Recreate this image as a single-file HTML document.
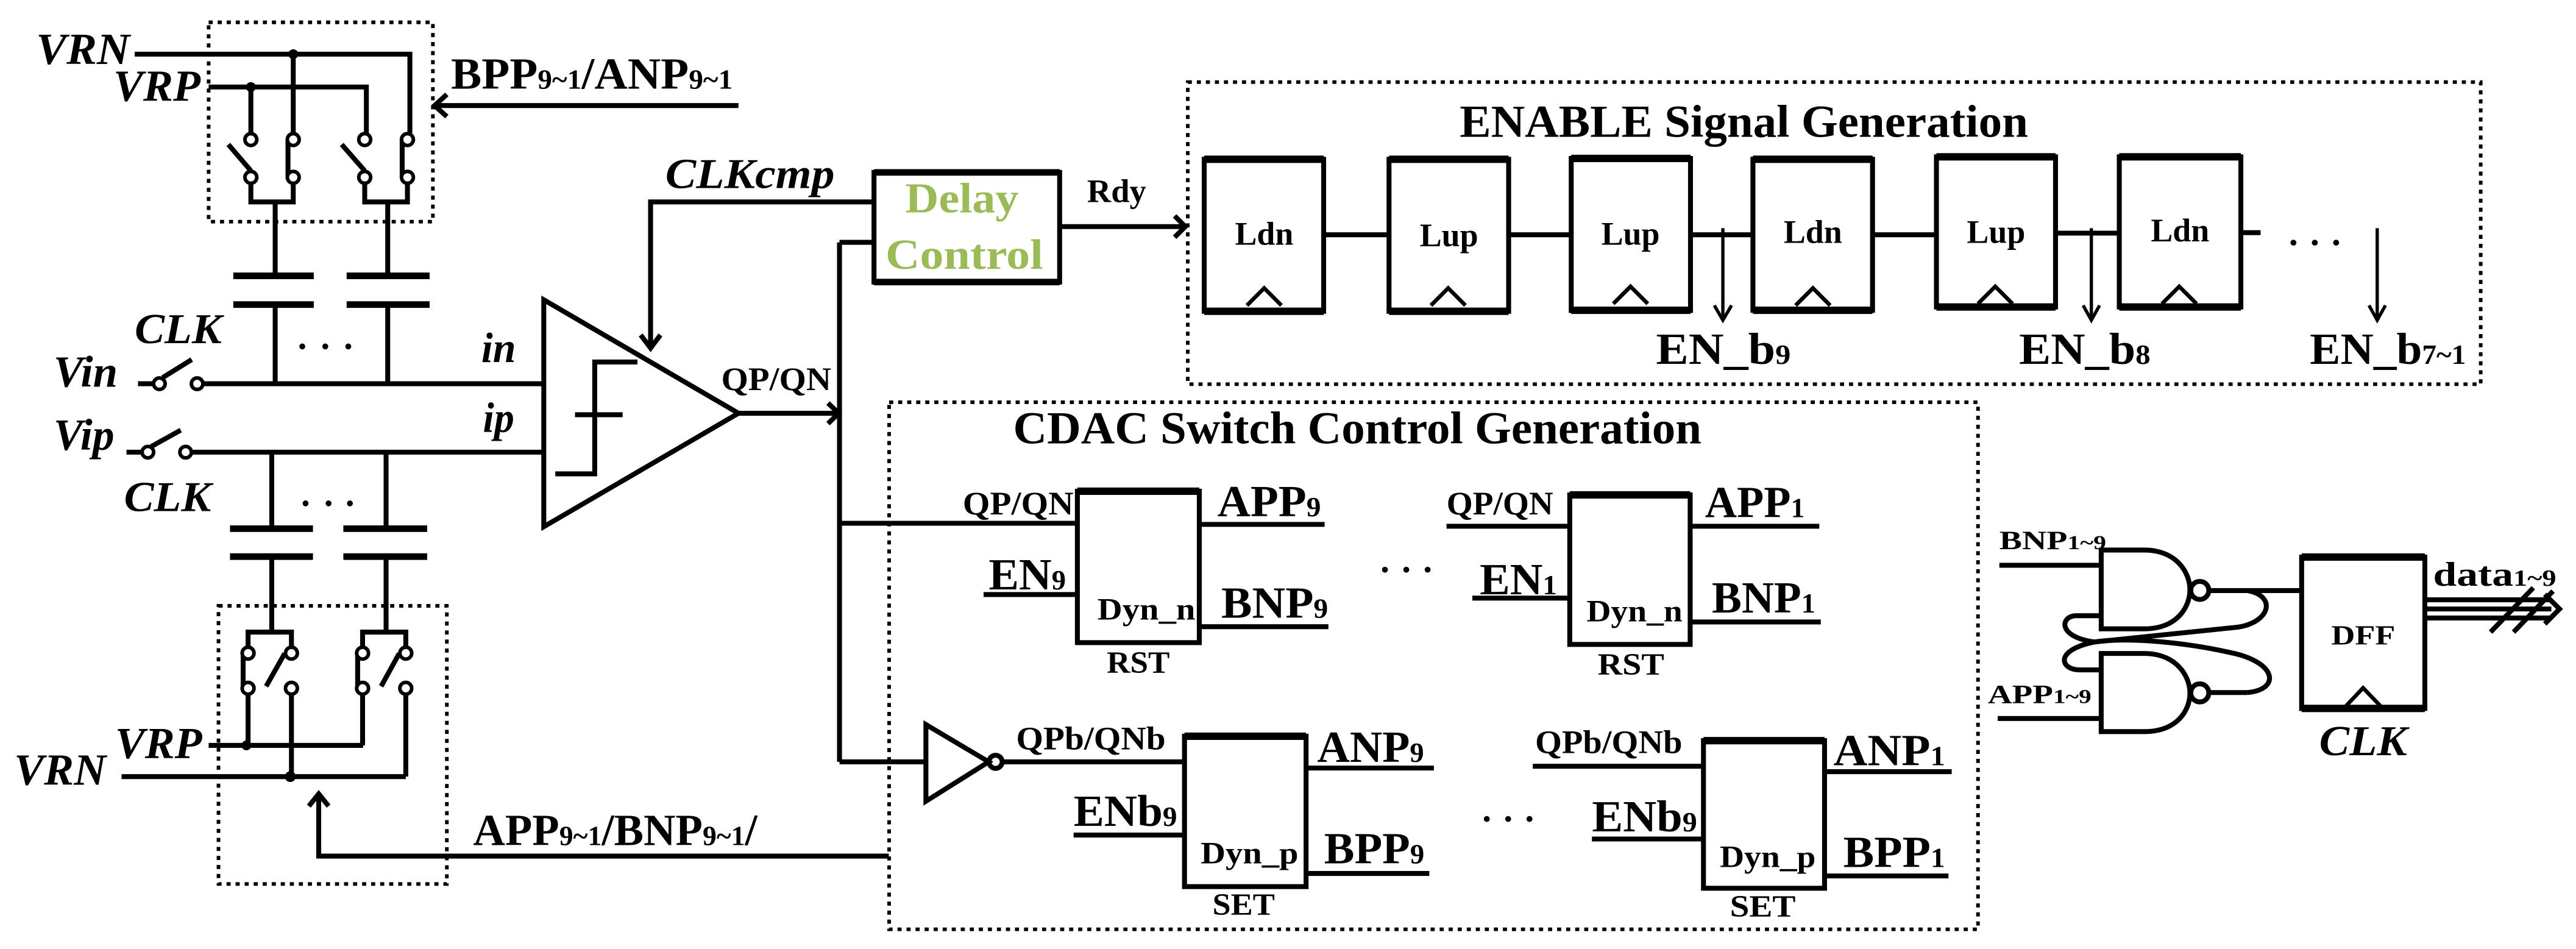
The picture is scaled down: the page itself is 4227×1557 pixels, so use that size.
<!DOCTYPE html>
<html><head><meta charset="utf-8"><style>
html,body{margin:0;padding:0;background:#fff;}
svg{display:block;}
text{font-family:"Liberation Serif",serif;font-weight:bold;fill:#000;}
.it{font-style:italic;}
</style></head><body>
<svg width="4227" height="1557" viewBox="0 0 1568 578" preserveAspectRatio="none" xmlns="http://www.w3.org/2000/svg">
<g fill="none" stroke="#000" stroke-width="3" stroke-linejoin="miter">
<!-- dashed boxes -->
<g stroke-width="2.2" stroke-dasharray="2.5 3">
<rect x="127" y="13.6" width="136.5" height="121.4"/>
<rect x="133" y="369" width="139" height="169.4"/>
<rect x="723" y="50" width="787" height="184"/>
<rect x="541.2" y="245" width="662.8" height="321"/>
</g>
<!-- top switch block -->
<path d="M82,33 H249.5 V81"/>
<path d="M178.5,33 V81"/>
<path d="M127,53 H223 V81"/>
<path d="M152.7,53 V81"/>
<path d="M152.7,104 L139,88"/>
<path d="M222,104 L208,88"/>
<path d="M175.3,85 V108"/>
<path d="M244.8,85 V108"/>
<path d="M152.7,112 V123 H178.5 V112"/>
<path d="M222,112 V123 H248 V112"/>
<path d="M167.5,123 V168 M236,123 V168"/>
<path d="M142,168 H191 M211,168 H261.5 M142,185.5 H191 M211,185.5 H261.5" stroke-width="4"/>
<path d="M167.5,185.5 V233.7 M236,185.5 V233.7"/>
<!-- Vin / Vip -->
<path d="M84,233.7 H93.5 M123.5,233.7 H331"/>
<path d="M99,230 L116.7,219"/>
<path d="M77,275.4 H86.5 M116.5,275.4 H331"/>
<path d="M92,272 L110,262"/>
<!-- bottom caps -->
<path d="M165.4,275.4 V322 M235,275.4 V322"/>
<path d="M140,322 H190.5 M209,322 H260 M140,339 H190.5 M209,339 H260" stroke-width="4"/>
<path d="M165.4,339 V385 M235,339 V385"/>
<path d="M151,393.8 V385 H177.4 V393.8"/>
<path d="M220.7,393.8 V385 H247 V393.8"/>
<path d="M148,397.8 V419.2 M217.7,397.8 V419.2"/>
<path d="M173.3,398 L162,418 M243,398 L232,418"/>
<path d="M151,423 V454 M220.7,423 V454 M177.4,423 V473 M247,423 V473"/>
<path d="M127,454 H221"/>
<path d="M74,473 H247"/>
<path d="M541,521.4 H194 V485"/>
<path d="M188,491 L194,483.5 L200,491"/>
<!-- BPP arrow -->
<path d="M449.5,64.3 H266"/>
<path d="M272,57.5 L264.5,64.3 L272,71"/>
<!-- comparator -->
<path d="M331,182.6 L449.5,251.7 L331,320.8 Z"/>
<path d="M338,288.6 H362 V220.5 H388 M350,252.6 H379"/>
<path d="M449.5,251.7 H510"/>
<path d="M504,245.5 L510.5,251.7 L504,258"/>
<path d="M511,147.6 V464 M511,147.6 H532 M511,318.7 H655.8 M511,464 H563.6"/>
<path d="M532,123 H396 V211"/>
<path d="M390,204 L396,212 L402,204"/>
<!-- delay -->
<rect x="532" y="105" width="113" height="66.8"/>
<path d="M532,105 H645 M532,171.8 H645" stroke-width="4"/>
<path d="M645,138 H720"/>
<path d="M715,131.5 L721.5,138 L715,144.5"/>
<!-- enable boxes -->
<g>
<rect x="733" y="97" width="72.7" height="92.6"/>
<rect x="845.5" y="97" width="72.8" height="92.6"/>
<rect x="956.4" y="96.5" width="72.6" height="92.6"/>
<rect x="1067" y="97" width="72.8" height="92"/>
<rect x="1178.7" y="95.5" width="72.5" height="91.5"/>
<rect x="1290" y="95.5" width="74" height="91.5"/>
</g>
<path stroke-width="4.5" d="M733,97 H805.7 M733,189.6 H805.7 M845.5,97 H918.3 M845.5,189.6 H918.3 M956.4,96.5 H1029 M956.4,189 H1029 M1067,97 H1139.8 M1067,189 H1139.8 M1178.7,95.5 H1251.2 M1178.7,187 H1251.2 M1290,95.5 H1364 M1290,187 H1364"/>
<path stroke-width="2.4" d="M759,186 L769.5,175.5 L780,186 M871,186 L881.5,175.5 L892,186 M982,185 L992.5,174.5 L1003,185 M1093,186 L1103.5,175.5 L1114,186 M1204,185 L1214.5,174.5 L1225,185 M1316,185 L1326.5,174.5 L1337,185"/>
<path d="M805.7,143 H845.5 M918.3,143 H956.4 M1029,143 H1067 M1139.8,143 H1178.7 M1251.2,142 H1290 M1364,141.7 H1376"/>
<path stroke-width="2" d="M1048.7,139 V194 M1273,139 V194 M1447,139 V194"/>
<path stroke-width="2" d="M1043.5,186 L1048.7,195 L1054,186 M1268,186 L1273,195 L1278,186 M1442,186 L1447,195 L1452,186"/>
<!-- CDAC -->
<rect x="655.8" y="299.2" width="74.2" height="92.2"/>
<rect x="955.5" y="301.4" width="73.3" height="91.1"/>
<rect x="721" y="448.4" width="74" height="91.6"/>
<rect x="1036.9" y="451.1" width="73.7" height="89.9"/>
<path stroke-width="4.5" d="M655.8,299.2 H730 M955.5,301.4 H1028.8 M721,448.4 H795 M1036.9,451.1 H1110.6"/>
<path d="M730,319.4 H806.3 M598.7,362.1 H655.8 M730,381.7 H808.6"/>
<path d="M880.5,320.5 H955.5 M1028.8,320.5 H1107.4 M896.2,364.3 H955.5 M1028.8,378.8 H1108.3"/>
<path d="M563.6,441.3 L601.8,464 L563.6,488 Z"/>
<circle cx="606" cy="464" r="4"/>
<path d="M610,464 H721 M795,467.8 H872.8 M653.5,508.6 H721 M795,532 H870"/>
<path d="M933,466.7 H1036.9 M1110.6,470 H1188 M969,511 H1036.9 M1110.6,533.5 H1186"/>
<!-- NAND + DFF -->
<path d="M1279,335 H1305 C1325,335 1333,349 1333,359 C1333,370 1325,383 1305,383 H1279 Z"/>
<path d="M1279,398 H1305 C1325,398 1333,412 1333,422 C1333,433 1325,445.6 1305,445.6 H1279 Z"/>
<circle cx="1339" cy="359.6" r="5.5"/>
<circle cx="1339" cy="422" r="5.5"/>
<path d="M1217,344.3 H1279 M1216,437.6 H1279 M1344.5,359.7 H1401"/>
<path d="M1344.5,421.8 H1368"/>
<path d="M1368,359.7 C1386,363 1382,379 1362,382 L1275,391 C1250,396 1254,408 1266,408 H1279"/>
<path d="M1368,421.8 C1388,420 1386,404 1360,398 C1330,391 1295,388 1275,391 C1252,388 1254,375 1264,375 H1279"/>
<rect x="1401" y="339.3" width="75" height="92.2"/>
<path stroke-width="4.5" d="M1401,339.3 H1476 M1401,431.5 H1476"/>
<path stroke-width="2.4" d="M1428,430 L1438.4,419 L1449,430"/>
<path d="M1476,365.3 H1553 M1476,370.9 H1553 M1476,376.4 H1553"/>
<path d="M1549,362 L1558,370.9 L1549,380"/>
<path d="M1516,385 L1542,358 M1530,385 L1554,360"/>
</g>
<!-- circles (terminals) -->
<g fill="#fff" stroke="#000" stroke-width="2.2">
<circle cx="152.7" cy="85" r="3.6"/><circle cx="178.5" cy="85" r="3.6"/><circle cx="222" cy="85" r="3.6"/><circle cx="248" cy="85" r="3.6"/>
<circle cx="152.7" cy="108" r="3.6"/><circle cx="178.5" cy="108" r="3.6"/><circle cx="222" cy="108" r="3.6"/><circle cx="248" cy="108" r="3.6"/>
<circle cx="151" cy="397.8" r="3.6"/><circle cx="177.4" cy="397.8" r="3.6"/><circle cx="220.7" cy="397.8" r="3.6"/><circle cx="247" cy="397.8" r="3.6"/>
<circle cx="151" cy="419.2" r="3.6"/><circle cx="177.4" cy="419.2" r="3.6"/><circle cx="220.7" cy="419.2" r="3.6"/><circle cx="247" cy="419.2" r="3.6"/>
<circle cx="97" cy="233.7" r="3.5"/><circle cx="120" cy="233.7" r="3.5"/>
<circle cx="90" cy="275.4" r="3.5"/><circle cx="113" cy="275.4" r="3.5"/>
</g>
<g fill="#000">
<circle cx="178.5" cy="33" r="3"/><circle cx="152.7" cy="53" r="3"/>
<circle cx="150" cy="454" r="3"/><circle cx="176.7" cy="473" r="3.3"/>
<circle cx="184" cy="211" r="1.8"/><circle cx="198" cy="211" r="1.8"/><circle cx="212" cy="211" r="1.8"/>
<circle cx="186" cy="306.6" r="1.8"/><circle cx="200" cy="306.6" r="1.8"/><circle cx="213" cy="306.6" r="1.8"/>
<circle cx="1396" cy="147.8" r="1.8"/><circle cx="1409" cy="147.8" r="1.8"/><circle cx="1422" cy="147.8" r="1.8"/>
<circle cx="843" cy="347" r="1.8"/><circle cx="856" cy="347" r="1.8"/><circle cx="869" cy="347" r="1.8"/>
<circle cx="905" cy="498.8" r="1.8"/><circle cx="918" cy="498.8" r="1.8"/><circle cx="931" cy="498.8" r="1.8"/>
</g>
<!-- text -->
<g font-size="27">
<text class="it" x="22" y="39" textLength="57" lengthAdjust="spacingAndGlyphs">VRN</text>
<text class="it" x="69" y="61.5" textLength="53" lengthAdjust="spacingAndGlyphs">VRP</text>
<text x="274.5" y="54" textLength="171.5" lengthAdjust="spacingAndGlyphs">BPP<tspan font-size="17">9~1</tspan>/ANP<tspan font-size="17">9~1</tspan></text>
<text class="it" x="405" y="114.5" font-size="26" textLength="103" lengthAdjust="spacingAndGlyphs">CLKcmp</text>
<text class="it" x="82" y="209" font-size="26" textLength="53" lengthAdjust="spacingAndGlyphs">CLK</text>
<text class="it" x="32.6" y="235.6" textLength="39" lengthAdjust="spacingAndGlyphs">Vin</text>
<text class="it" x="293" y="220.5" font-size="26" textLength="21" lengthAdjust="spacingAndGlyphs">in</text>
<text class="it" x="294" y="263" font-size="26" textLength="19" lengthAdjust="spacingAndGlyphs">ip</text>
<text class="it" x="32.6" y="274" textLength="37" lengthAdjust="spacingAndGlyphs">Vip</text>
<text class="it" x="75.5" y="311.3" font-size="26" textLength="53" lengthAdjust="spacingAndGlyphs">CLK</text>
<text x="439" y="237.5" font-size="20" font-weight="normal" textLength="67" lengthAdjust="spacingAndGlyphs">QP/QN</text>
<text class="it" x="70" y="461.8" textLength="53" lengthAdjust="spacingAndGlyphs">VRP</text>
<text class="it" x="8.6" y="478" textLength="56" lengthAdjust="spacingAndGlyphs">VRN</text>
<text x="288" y="514.8" textLength="173" lengthAdjust="spacingAndGlyphs">APP<tspan font-size="17">9~1</tspan>/BNP<tspan font-size="17">9~1</tspan>/</text>
<text x="551" y="129.4" font-size="26" style="fill:#9BBB59" textLength="69" lengthAdjust="spacingAndGlyphs">Delay</text>
<text x="539" y="163.8" font-size="26" style="fill:#9BBB59" textLength="96" lengthAdjust="spacingAndGlyphs">Control</text>
<text x="661.7" y="123" font-size="20" textLength="36" lengthAdjust="spacingAndGlyphs">Rdy</text>
<text x="888.5" y="83.3" font-size="28" textLength="346" lengthAdjust="spacingAndGlyphs">ENABLE Signal Generation</text>
<g font-size="20" text-anchor="middle">
<text x="769.5" y="149">Ldn</text><text x="882" y="150">Lup</text><text x="992.5" y="149">Lup</text>
<text x="1103.5" y="148">Ldn</text><text x="1215" y="148">Lup</text><text x="1327" y="147">Ldn</text>
</g>
<text x="1008" y="221.6" textLength="82" lengthAdjust="spacingAndGlyphs">EN_b<tspan font-size="17">9</tspan></text>
<text x="1229" y="221.6" textLength="80" lengthAdjust="spacingAndGlyphs">EN_b<tspan font-size="17">8</tspan></text>
<text x="1406" y="221.6" textLength="95" lengthAdjust="spacingAndGlyphs">EN_b<tspan font-size="17">7~1</tspan></text>
<text x="616.7" y="270" font-size="28" textLength="419" lengthAdjust="spacingAndGlyphs">CDAC Switch Control Generation</text>
<text x="586" y="313.3" font-size="20" font-weight="normal" textLength="67.5" lengthAdjust="spacingAndGlyphs">QP/QN</text>
<text x="741" y="314.4" textLength="63" lengthAdjust="spacingAndGlyphs">APP<tspan font-size="17">9</tspan></text>
<text x="601.8" y="358.9" textLength="47" lengthAdjust="spacingAndGlyphs">EN<tspan font-size="17">9</tspan></text>
<text x="743.4" y="376.2" textLength="65" lengthAdjust="spacingAndGlyphs">BNP<tspan font-size="17">9</tspan></text>
<text x="668" y="377.3" font-size="19" textLength="59.6" lengthAdjust="spacingAndGlyphs">Dyn_n</text>
<text x="673.7" y="409.8" font-size="19" textLength="38.3" lengthAdjust="spacingAndGlyphs">RST</text>
<text x="880.5" y="313.3" font-size="20" font-weight="normal" textLength="65" lengthAdjust="spacingAndGlyphs">QP/QN</text>
<text x="1037.8" y="315" textLength="60.7" lengthAdjust="spacingAndGlyphs">APP<tspan font-size="17">1</tspan></text>
<text x="900.7" y="362" textLength="47" lengthAdjust="spacingAndGlyphs">EN<tspan font-size="17">1</tspan></text>
<text x="1042" y="373" textLength="63" lengthAdjust="spacingAndGlyphs">BNP<tspan font-size="17">1</tspan></text>
<text x="965.7" y="378.5" font-size="19" textLength="58.4" lengthAdjust="spacingAndGlyphs">Dyn_n</text>
<text x="972.5" y="411" font-size="19" textLength="40.5" lengthAdjust="spacingAndGlyphs">RST</text>
<text x="618.5" y="456.5" font-size="20" font-weight="normal" textLength="91" lengthAdjust="spacingAndGlyphs">QPb/QNb</text>
<text x="801.8" y="464" textLength="65" lengthAdjust="spacingAndGlyphs">ANP<tspan font-size="17">9</tspan></text>
<text x="653.5" y="503" textLength="63" lengthAdjust="spacingAndGlyphs">ENb<tspan font-size="17">9</tspan></text>
<text x="730.8" y="525.9" font-size="19" textLength="59.5" lengthAdjust="spacingAndGlyphs">Dyn_p</text>
<text x="806" y="525.9" textLength="61" lengthAdjust="spacingAndGlyphs">BPP<tspan font-size="17">9</tspan></text>
<text x="738" y="557.3" font-size="19" textLength="38" lengthAdjust="spacingAndGlyphs">SET</text>
<text x="934.4" y="458.6" font-size="20" font-weight="normal" textLength="89.6" lengthAdjust="spacingAndGlyphs">QPb/QNb</text>
<text x="1116" y="466" textLength="68" lengthAdjust="spacingAndGlyphs">ANP<tspan font-size="17">1</tspan></text>
<text x="969" y="506.3" textLength="64" lengthAdjust="spacingAndGlyphs">ENb<tspan font-size="17">9</tspan></text>
<text x="1046.8" y="528" font-size="19" textLength="58.4" lengthAdjust="spacingAndGlyphs">Dyn_p</text>
<text x="1122" y="528" textLength="62" lengthAdjust="spacingAndGlyphs">BPP<tspan font-size="17">1</tspan></text>
<text x="1053" y="558.4" font-size="19" textLength="40" lengthAdjust="spacingAndGlyphs">SET</text>
<text x="1217" y="334.4" font-size="16" textLength="65" lengthAdjust="spacingAndGlyphs">BNP<tspan font-size="12">1~9</tspan></text>
<text x="1210" y="428.3" font-size="16" textLength="63" lengthAdjust="spacingAndGlyphs">APP<tspan font-size="12">1~9</tspan></text>
<text x="1419" y="392.5" font-size="17" textLength="39" lengthAdjust="spacingAndGlyphs">DFF</text>
<text class="it" x="1411.7" y="460" font-size="26" textLength="53.5" lengthAdjust="spacingAndGlyphs">CLK</text>
<text x="1481" y="356.7" font-size="21" textLength="75" lengthAdjust="spacingAndGlyphs">data<tspan font-size="14">1~9</tspan></text>
</g>
</svg>
</body></html>
